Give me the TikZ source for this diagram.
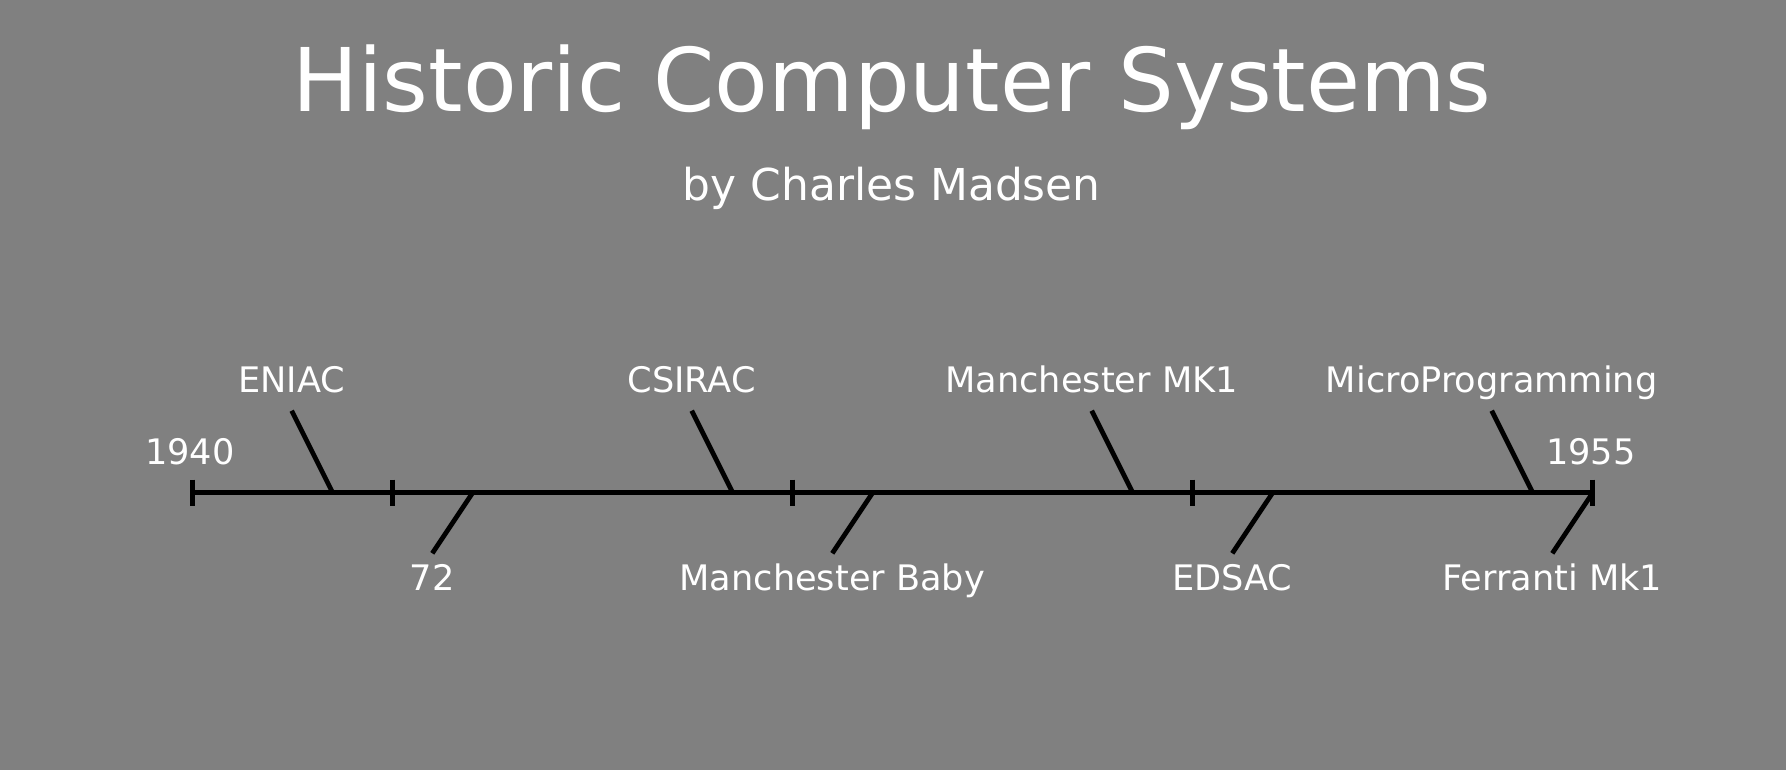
\documentclass[tikz,border=0pt]{standalone}
\usepackage{fontspec}
\setmainfont{DejaVu Sans}
\usepackage{tikz}
\usetikzlibrary{positioning,calc}
\usepackage{xcolor}
\definecolor{bggray}{RGB}{128,128,128}

\tikzset{
    lbl/.style={text=white, inner sep=0pt, anchor=base, font=\fontsize{10}{12}\selectfont},
    axisline/.style={line width=1.45pt, black},
    stem/.style={line width=1.35pt, black},
    tick/.style={line width=1.35pt, black}
}

\begin{document}
\begin{tikzpicture}[x=1cm,y=1cm]
% Background
\fill[bggray] (0,0) rectangle (17.86,-7.70);
\useasboundingbox (0,0) rectangle (17.86,-7.70);

% Title
\node[lbl, font=\fontsize{25}{30}\selectfont] (title) at (8.92,-1.11) {Historic Computer Systems};
\node[lbl, font=\fontsize{12.5}{15}\selectfont] (author) at (8.917,-2.00) {by Charles Madsen};

% Time axis
\coordinate (start) at (1.927,-4.927);
\coordinate (end) at (15.927,-4.927);
\draw[axisline] (start) -- (end);
\foreach \x [count=\i] in {1.927,3.927,7.927,11.927,15.927} {
    \coordinate (tick\i) at (\x,-4.927);
    \draw[tick] ($(tick\i)+(0,0.13)$) -- ($(tick\i)+(0,-0.13)$);
}
\node[lbl] (yearstart) at (1.90,-4.64) {1940};
\node[lbl] (yearend) at (15.91,-4.64) {1955};

% Events above the axis
\foreach \x/\evname [count=\i] in {
    3.327/ENIAC,
    7.327/CSIRAC,
    11.327/Manchester MK1,
    15.327/MicroProgramming
} {
    \coordinate (up\i) at (\x,-4.927);
    \coordinate (upend\i) at (\x-0.41,-4.107);
    \draw[stem] (up\i) -- (upend\i);
    \node[lbl] (uplbl\i) at ($(upend\i)+(0,0.187)$) {\evname};
}

% Events below the axis
\foreach \x/\evname [count=\i] in {
    4.727/72,
    8.727/Manchester Baby,
    12.727/EDSAC,
    15.927/Ferranti Mk1
} {
    \coordinate (down\i) at (\x,-4.927);
    \coordinate (downend\i) at (\x-0.404,-5.533);
    \draw[stem] (down\i) -- (downend\i);
    \node[lbl] (downlbl\i) at ($(downend\i)+(0,-0.367)$) {\evname};
}

\end{tikzpicture}
\end{document}
